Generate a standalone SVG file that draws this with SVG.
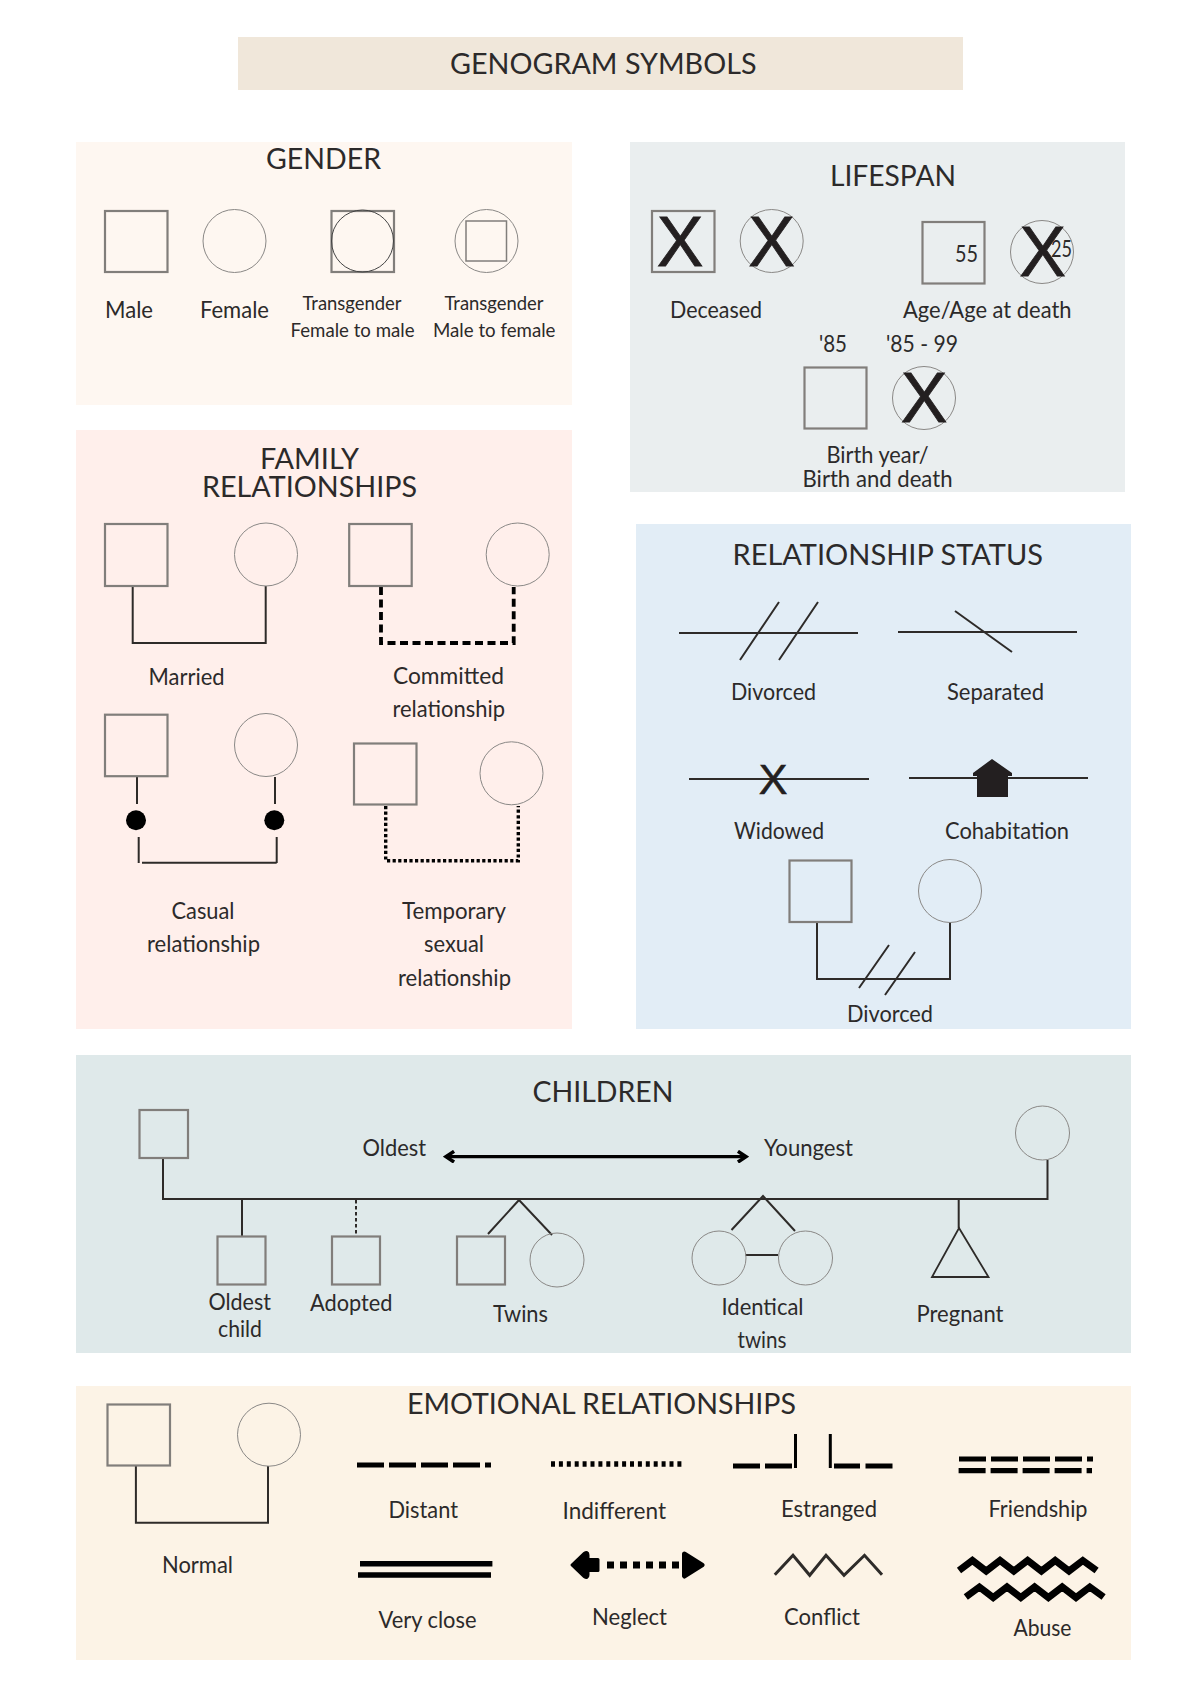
<svg xmlns="http://www.w3.org/2000/svg" width="1200" height="1697" viewBox="0 0 1200 1697">
<style>
text{font-family:"Lato","Liberation Sans",sans-serif;fill:#2c2a2a;font-size:23px}
.h{font-size:28px}
.s{font-size:20px}
.x{font-family:"Liberation Sans",Arial,sans-serif;fill:#231f20;stroke:#231f20;stroke-width:.8;font-size:70px;text-anchor:middle}
.sq{fill:none;stroke:#817e7b;stroke-width:2.2}
.ci{fill:none;stroke:#8a8886;stroke-width:1}
.ln{fill:none;stroke:#2e2b29;stroke-width:2;stroke-linecap:butt}
.blk{fill:none;stroke:#000;stroke-linejoin:miter}
</style>
<defs>
<marker id="arrowHead" viewBox="0 0 10 10" refX="8" refY="5" markerWidth="4.200" markerHeight="4.200" orient="auto-start-reverse"><path d="M2 1L8 5L2 9" fill="none" stroke="#000" stroke-width="2.600"/></marker>
</defs>
<rect width="1200" height="1697" fill="#fff"/>

<g id="panels">
<rect x="238" y="37" width="725" height="53" fill="#f0e7da"/>
<rect x="76" y="142" width="496" height="263" fill="#fef7f1"/>
<rect x="630" y="142" width="495" height="350" fill="#eaeeef"/>
<rect x="76" y="430" width="496" height="599" fill="#ffefeb"/>
<rect x="636" y="524" width="495" height="505" fill="#e2edf6"/>
<rect x="76" y="1055" width="1055" height="298" fill="#dfe9ea"/>
<rect x="76" y="1386" width="1055" height="274" fill="#fcf3e6"/>
</g>

<g id="connectors">
<!-- family relationships -->
<path class="ln" d="M132.7 586V643H265.7V586"/>
<path class="blk" stroke-width="3.800" stroke-dasharray="8 4.500" d="M381 587V643H513.700V587"/>
<path class="ln" d="M137 777V804M275 777V804M138.700 837V863M276.700 837V863M142 862.700H276.700"/>
<path class="blk" stroke-width="3.400" stroke-dasharray="3.200 2.400" d="M385.700 806V860.700H518.300V806"/>
<!-- relationship status -->
<path class="ln" d="M679 633H858M740 660L779 602M779 660L818 602"/>
<path class="ln" d="M898 632H1077M955 611L1012 652"/>
<path class="ln" d="M689 779H869"/>
<path class="ln" d="M909 778H1088"/>
<path class="ln" d="M817 922V979H950V922M859 988L889 945M885 995L915 952"/>
<!-- children -->
<path class="ln" d="M163 1158V1199H1047.500V1160M242 1199V1236M958.700 1199V1228"/>
<path class="ln" stroke-dasharray="3.500 2.500" d="M356 1200V1235"/>
<path class="ln" d="M488 1234L519 1200L552 1235M731.500 1230L763 1196L795 1231M745.500 1255H778"/>
<path class="blk" stroke-width="3.200" marker-start="url(#arrowHead)" marker-end="url(#arrowHead)" d="M446 1156.700H746"/>
<!-- emotional relationships -->
<path class="ln" d="M135.900 1466V1522.700H268V1466"/>
<path class="blk" stroke-width="5.200" stroke-dasharray="27 5" d="M357 1465H491"/>
<path class="blk" stroke-width="5.400" stroke-dasharray="4 3.900" d="M551 1464H683"/>
<path class="blk" stroke-width="5.200" d="M733 1466H760M765 1466H792M834 1466H860M865.500 1466H892.500"/>
<path class="blk" stroke-width="3" d="M795.500 1434V1468M830.300 1434V1468"/>
<path class="blk" stroke-width="5.200" stroke-dasharray="27 5" d="M959 1459H1093"/>
<path class="blk" stroke-width="5.200" stroke-dasharray="27 5" d="M958.600 1470.700H1092"/>
<path class="blk" stroke-width="5.400" d="M360 1563.700H492.400M358 1575H491"/>
<path class="blk" stroke-width="7" stroke-dasharray="7 6" d="M607 1565H680"/>
<path class="ln" style="stroke-width:3" d="M774.800 1574.700L793 1555.300L809.700 1575.300L826 1555.300L844 1575.300L864.500 1555.300L882 1574.700"/>
<path class="blk" stroke-width="7" d="M959 1570.500L972.400 1560.500L986.200 1571L1000 1560.500L1013.800 1571L1027.600 1560.500L1041.400 1571L1055.200 1560.500L1069 1571L1082.800 1560.500L1096.600 1570.500"/>
<path class="blk" stroke-width="7" d="M965.800 1597L979.400 1587L993.200 1597.500L1007 1587L1020.800 1597.500L1034.600 1587L1048.400 1597.500L1062.200 1587L1076 1597.500L1089.800 1587L1103.600 1597"/>
</g>

<g id="title"><text class="h" x="450" y="74" textLength="306.500" lengthAdjust="spacingAndGlyphs">GENOGRAM SYMBOLS</text></g>

<g id="gender">
<text class="h" x="266" y="169" textLength="115" lengthAdjust="spacingAndGlyphs">GENDER</text>
<g id="male"><rect class="sq" x="105" y="211" width="62.500" height="61"/><text x="105" y="317.500" textLength="48" lengthAdjust="spacingAndGlyphs">Male</text></g>
<g id="female"><circle class="ci" cx="234.500" cy="241" r="31.500"/><text x="200" y="317.500" textLength="69" lengthAdjust="spacingAndGlyphs">Female</text></g>
<g id="trans-ftm"><rect class="sq" x="331.500" y="211" width="62.500" height="61"/><circle class="ci" style="stroke:#444" cx="362.500" cy="241" r="31"/><text class="s" x="302.500" y="310" textLength="99" lengthAdjust="spacingAndGlyphs">Transgender</text><text class="s" x="290.500" y="337" textLength="124" lengthAdjust="spacingAndGlyphs">Female to male</text></g>
<g id="trans-mtf"><circle class="ci" cx="486.500" cy="241" r="31.500"/><rect class="sq" style="stroke-width:1.500" x="466" y="221" width="40.500" height="40"/><text class="s" x="444.500" y="310" textLength="99" lengthAdjust="spacingAndGlyphs">Transgender</text><text class="s" x="433" y="337" textLength="122.500" lengthAdjust="spacingAndGlyphs">Male to female</text></g>
</g>

<g id="lifespan">
<text class="h" x="830" y="186" textLength="126" lengthAdjust="spacingAndGlyphs">LIFESPAN</text>
<g id="deceased"><rect class="sq" x="652" y="211" width="62.500" height="61"/><text class="x" x="680" y="266">X</text><circle class="ci" cx="771.700" cy="241" r="31.500"/><text class="x" x="771.700" y="266">X</text><text x="670" y="317.500" textLength="92" lengthAdjust="spacingAndGlyphs">Deceased</text></g>
<g id="age"><rect class="sq" x="922.500" y="222" width="62" height="61.500"/><text x="955" y="262" textLength="23" lengthAdjust="spacingAndGlyphs">55</text><circle class="ci" cx="1042" cy="252" r="31.500"/><text class="x" x="1042.500" y="276">X</text><text x="1051" y="257" textLength="21" lengthAdjust="spacingAndGlyphs">25</text><text x="903" y="317.500" textLength="168.500" lengthAdjust="spacingAndGlyphs">Age/Age at death</text></g>
<g id="birth"><text x="819" y="352" textLength="28" lengthAdjust="spacingAndGlyphs">'85</text><text x="886" y="352" textLength="72" lengthAdjust="spacingAndGlyphs">'85 - 99</text><rect class="sq" x="804.500" y="367.500" width="62" height="61"/><circle class="ci" cx="924" cy="398" r="31.500"/><text class="x" x="924" y="422">X</text><text x="826.500" y="463" textLength="102" lengthAdjust="spacingAndGlyphs">Birth year/</text><text x="802.500" y="487" textLength="150" lengthAdjust="spacingAndGlyphs">Birth and death</text></g>
</g>

<g id="family">
<text class="h" x="260" y="468.500" textLength="99" lengthAdjust="spacingAndGlyphs">FAMILY</text>
<text class="h" x="202" y="496.500" textLength="215" lengthAdjust="spacingAndGlyphs">RELATIONSHIPS</text>
<g id="married"><rect class="sq" x="105" y="524" width="62.500" height="62"/><circle class="ci" cx="266" cy="554.500" r="31.500"/><text x="148.500" y="685" textLength="76" lengthAdjust="spacingAndGlyphs">Married</text></g>
<g id="committed"><rect class="sq" x="349.200" y="524" width="62.500" height="62"/><circle class="ci" cx="517.700" cy="554.500" r="31.500"/><text x="393" y="684" textLength="111" lengthAdjust="spacingAndGlyphs">Committed</text><text x="392.500" y="717" textLength="112.500" lengthAdjust="spacingAndGlyphs">relationship</text></g>
<g id="casual"><rect class="sq" x="105" y="714.700" width="62.500" height="61.500"/><circle class="ci" cx="266" cy="745" r="31.500"/><circle cx="136" cy="820.300" r="10" fill="#000"/><circle cx="274.300" cy="820.300" r="10" fill="#000"/><text x="171.500" y="918.500" textLength="63" lengthAdjust="spacingAndGlyphs">Casual</text><text x="147" y="951.500" textLength="113" lengthAdjust="spacingAndGlyphs">relationship</text></g>
<g id="temporary"><rect class="sq" x="354" y="743.500" width="62.500" height="61"/><circle class="ci" cx="511.500" cy="773.300" r="31.500"/><text x="402" y="918.500" textLength="104" lengthAdjust="spacingAndGlyphs">Temporary</text><text x="424" y="951.500" textLength="60" lengthAdjust="spacingAndGlyphs">sexual</text><text x="398" y="985.500" textLength="113" lengthAdjust="spacingAndGlyphs">relationship</text></g>
</g>

<g id="status">
<text class="h" x="732.500" y="565" textLength="310.500" lengthAdjust="spacingAndGlyphs">RELATIONSHIP STATUS</text>
<g id="st-divorced"><text x="731" y="700" textLength="85" lengthAdjust="spacingAndGlyphs">Divorced</text></g>
<g id="st-separated"><text x="947" y="700" textLength="97" lengthAdjust="spacingAndGlyphs">Separated</text></g>
<g id="st-widowed"><text class="x" style="font-size:43px;stroke-width:.6" x="773" y="794">X</text><text x="734" y="839" textLength="90" lengthAdjust="spacingAndGlyphs">Widowed</text></g>
<g id="st-cohabitation"><path d="M992 759L1012 773V776H1008V797H977V776H973V773Z" fill="#231f20"/><text x="945" y="839" textLength="124" lengthAdjust="spacingAndGlyphs">Cohabitation</text></g>
<g id="st-couple"><rect class="sq" x="789.500" y="860.500" width="62" height="61.500"/><circle class="ci" cx="950" cy="891" r="31.500"/><text x="847" y="1022" textLength="86" lengthAdjust="spacingAndGlyphs">Divorced</text></g>
</g>

<g id="children">
<text class="h" x="532.500" y="1101.500" textLength="141" lengthAdjust="spacingAndGlyphs">CHILDREN</text>
<g id="ch-father"><rect class="sq" x="139.500" y="1110" width="48.500" height="48"/></g>
<g id="ch-mother"><circle class="ci" cx="1042.500" cy="1133" r="27"/></g>
<text x="362.500" y="1156" textLength="63.500" lengthAdjust="spacingAndGlyphs">Oldest</text>
<text x="764" y="1156" textLength="89" lengthAdjust="spacingAndGlyphs">Youngest</text>
<g id="ch-oldest"><rect class="sq" x="217.500" y="1236.500" width="48" height="48"/><text x="208.500" y="1310" textLength="62.500" lengthAdjust="spacingAndGlyphs">Oldest</text><text x="218" y="1337" textLength="44" lengthAdjust="spacingAndGlyphs">child</text></g>
<g id="ch-adopted"><rect class="sq" x="332" y="1236.500" width="48" height="48"/><text x="310" y="1311" textLength="82.500" lengthAdjust="spacingAndGlyphs">Adopted</text></g>
<g id="ch-twins"><rect class="sq" x="457" y="1236.500" width="48" height="48"/><circle class="ci" cx="557" cy="1260" r="27"/><text x="493" y="1322" textLength="55" lengthAdjust="spacingAndGlyphs">Twins</text></g>
<g id="ch-identical"><circle class="ci" cx="719" cy="1258" r="27"/><circle class="ci" cx="805.500" cy="1258" r="27"/><text x="721.500" y="1315" textLength="82" lengthAdjust="spacingAndGlyphs">Identical</text><text x="737.500" y="1348" textLength="49" lengthAdjust="spacingAndGlyphs">twins</text></g>
<g id="ch-pregnant"><path d="M959 1228L988.500 1277H932Z" fill="none" stroke="#2e2b29" stroke-width="1.800"/><text x="916.500" y="1322" textLength="87" lengthAdjust="spacingAndGlyphs">Pregnant</text></g>
</g>

<g id="emotional">
<text class="h" x="407" y="1413.500" textLength="389" lengthAdjust="spacingAndGlyphs">EMOTIONAL RELATIONSHIPS</text>
<g id="em-normal"><rect class="sq" x="107.500" y="1404.500" width="62.500" height="61"/><circle class="ci" cx="269" cy="1434.700" r="31.500"/><text x="162" y="1572.500" textLength="71" lengthAdjust="spacingAndGlyphs">Normal</text></g>
<g id="em-distant"><text x="388.500" y="1518" textLength="69.500" lengthAdjust="spacingAndGlyphs">Distant</text></g>
<g id="em-indifferent"><text x="562.500" y="1518.500" textLength="103.500" lengthAdjust="spacingAndGlyphs">Indifferent</text></g>
<g id="em-estranged"><text x="781" y="1517" textLength="96" lengthAdjust="spacingAndGlyphs">Estranged</text></g>
<g id="em-friendship"><text x="988.500" y="1517" textLength="99" lengthAdjust="spacingAndGlyphs">Friendship</text></g>
<g id="em-close"><text x="378.500" y="1628" textLength="98" lengthAdjust="spacingAndGlyphs">Very close</text></g>
<g id="em-neglect"><path d="M572 1565L584 1553.500Q588 1551 588 1555V1559.500H598V1570.500H588V1575Q588 1579 584 1576.500Z" fill="#000" stroke="#000" stroke-width="3" stroke-linejoin="round"/><path d="M684.500 1554L702 1565L684.500 1576Z" fill="#000" stroke="#000" stroke-width="5" stroke-linejoin="round"/><text x="592" y="1624.500" textLength="75" lengthAdjust="spacingAndGlyphs">Neglect</text></g>
<g id="em-conflict"><text x="784" y="1624.500" textLength="76" lengthAdjust="spacingAndGlyphs">Conflict</text></g>
<g id="em-abuse"><text x="1013.500" y="1635.500" textLength="58" lengthAdjust="spacingAndGlyphs">Abuse</text></g>
</g>
</svg>
